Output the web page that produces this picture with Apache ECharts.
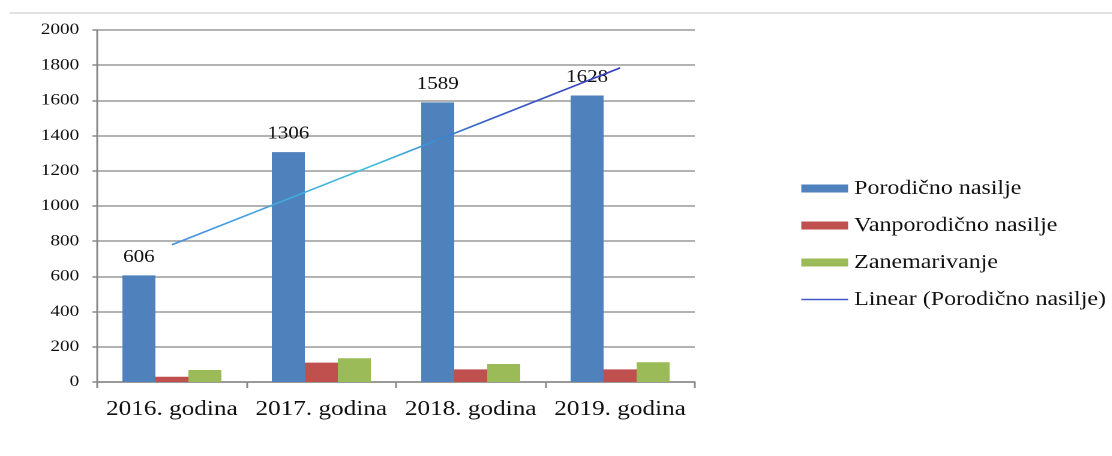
<!DOCTYPE html>
<html>
<head>
<meta charset="utf-8">
<script src="https://cdn.jsdelivr.net/npm/echarts@6/dist/echarts.min.js"></script>
<style>
  html, body { margin: 0; padding: 0; background: #ffffff; overflow: hidden; }
  /* The chart is laid out narrower and widened 1.2x, giving the wide serif lettering */
  #chart { width: 927px; height: 456px; transform: scaleX(1.2); transform-origin: 0 0; }
</style>
</head>
<body>
<div id="chart"></div>
<script>
// Categories and counts per year
const categories = ['2016. godina', '2017. godina', '2018. godina', '2019. godina'];
const porodicno = [606, 1306, 1589, 1628];
const vanporodicno = [30, 110, 72, 72];
const zanemarivanje = [68, 135, 102, 112];
const yTicks = [0, 200, 400, 600, 800, 1000, 1200, 1400, 1600, 1800, 2000];

// Least-squares linear trend of the domestic violence series
function linearTrend(values) {
  const n = values.length;
  const xs = values.map((_, i) => i + 1);
  const mx = xs.reduce((a, b) => a + b, 0) / n;
  const my = values.reduce((a, b) => a + b, 0) / n;
  let num = 0, den = 0;
  for (let i = 0; i < n; i++) {
    num += (xs[i] - mx) * (values[i] - my);
    den += (xs[i] - mx) * (xs[i] - mx);
  }
  const slope = num / den;
  return xs.map(x => my + slope * (x - mx));
}
const trend = linearTrend(porodicno);

const serif = '"Liberation Serif", "DejaVu Serif", serif';
const chart = echarts.init(document.getElementById('chart'), null, { renderer: 'canvas', devicePixelRatio: 2 });

chart.setOption({
  animation: false,
  backgroundColor: '#ffffff',
  graphic: [{
    type: 'rect',
    shape: { x: 8, y: 12, width: 930, height: 2 },
    style: { fill: '#e2e2e2' },
    silent: true
  }],
  grid: { left: 81, top: 30, width: 498, height: 352, containLabel: false },
  legend: {
    orient: 'vertical',
    left: 662,
    top: 173,
    itemWidth: 39,
    itemHeight: 8,
    itemGap: 16,
    textStyle: { fontFamily: serif, fontSize: 20, color: '#111', lineHeight: 21 },
    data: [
      { name: 'Porodično nasilje', icon: 'rect' },
      { name: 'Vanporodično nasilje', icon: 'rect' },
      { name: 'Zanemarivanje', icon: 'rect' },
      {
        name: 'Linear (Porodično nasilje)',
        itemStyle: { opacity: 0 },
        lineStyle: { color: '#4458c8', width: 1.5, opacity: 1 }
      }
    ]
  },
  xAxis: {
    type: 'category',
    data: categories,
    boundaryGap: true,
    axisLine: { lineStyle: { color: '#8a8a8a', width: 1.5 } },
    axisTick: { show: true, alignWithLabel: false, length: 6, lineStyle: { color: '#8a8a8a', width: 1.5 } },
    axisLabel: { interval: 0, fontFamily: serif, fontSize: 21, color: '#111', margin: 17 }
  },
  yAxis: {
    type: 'value',
    min: yTicks[0],
    max: yTicks[yTicks.length - 1],
    interval: 200,
    axisLine: { show: true, lineStyle: { color: '#8a8a8a', width: 1.5 } },
    axisTick: { show: true, length: 4, lineStyle: { color: '#8a8a8a', width: 1.5 } },
    axisLabel: { fontFamily: serif, fontSize: 16, color: '#111', margin: 15, formatter: v => String(v) },
    splitLine: { show: true, lineStyle: { color: '#9a9a9a', width: 1.5 } }
  },
  series: [
    {
      name: 'Porodično nasilje',
      type: 'bar',
      data: porodicno,
      barWidth: 27.5,
      barGap: '0%',
      itemStyle: { color: '#4f81bd' },
      label: {
        show: true,
        position: 'top',
        distance: 9,
        fontFamily: serif,
        fontSize: 17.5,
        color: '#111'
      }
    },
    {
      name: 'Vanporodično nasilje',
      type: 'bar',
      data: vanporodicno,
      barWidth: 27.5,
      barGap: '0%',
      itemStyle: { color: '#c0504d' }
    },
    {
      name: 'Zanemarivanje',
      type: 'bar',
      data: zanemarivanje,
      barWidth: 27.5,
      barGap: '0%',
      itemStyle: { color: '#9bbb59' }
    },
    {
      name: 'Linear (Porodično nasilje)',
      type: 'line',
      data: trend,
      symbol: 'none',
      z: 5,
      itemStyle: { color: '#4458c8' },
      lineStyle: {
        width: 1.6,
        color: new echarts.graphic.LinearGradient(0, 0, 1, 0, [
          { offset: 0, color: '#4a8fe0' },
          { offset: 0.45, color: '#3fc0dd' },
          { offset: 0.7, color: '#3a62c8' },
          { offset: 1, color: '#3d3fc0' }
        ])
      }
    }
  ]
});
</script>
</body>
</html>
